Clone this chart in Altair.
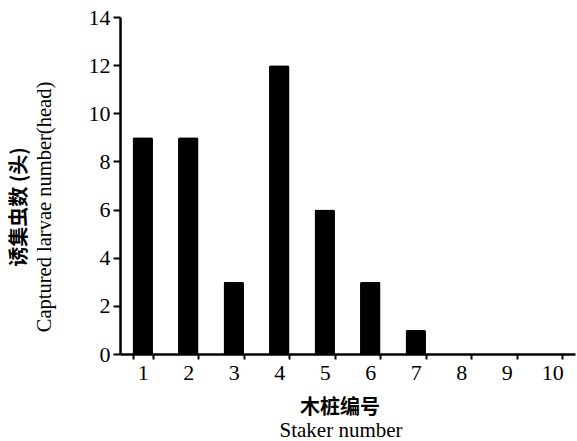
import altair as alt
import pandas as pd

stakers = ["1", "2", "3", "4", "5", "6", "7", "8", "9", "10"]
counts = [9, 9, 3, 12, 6, 3, 1, 0, 0, 0]
y_ticks = [0, 2, 4, 6, 8, 10, 12, 14]

y_title_cn = "诱集虫数 (头)"
y_title_en = "Captured larvae number(head)"
x_title_cn = "木桩编号"
x_title_en = "Staker number"

df = pd.DataFrame({"staker": stakers, "count": counts})

serif = "Liberation Serif"
cjk = "Noto Sans CJK SC"

bars = alt.Chart(df).mark_bar(color="black", cornerRadiusTopLeft=2, cornerRadiusTopRight=2).encode(
    x=alt.X("staker:N", sort=stakers,
            scale=alt.Scale(paddingInner=0.55, paddingOuter=0.275),
            axis=alt.Axis(title=None, labelAngle=0, labelPadding=3,
                          labelFont=serif, labelFontSize=22, labelColor="black",
                          domainColor="black", domainWidth=2.5,
                          tickColor="black", tickWidth=2,
                          tickBand="extent", tickSize=5)),
    y=alt.Y("count:Q", scale=alt.Scale(domain=[0, 14], nice=False),
            axis=alt.Axis(title=None, values=y_ticks, grid=False, labelPadding=3, tickSize=7,
                          labelFont=serif, labelFontSize=22, labelColor="black",
                          domainColor="black", domainWidth=2.5,
                          tickColor="black", tickWidth=2)),
)

def label(text, x, y, font, size, weight="normal", angle=0):
    return alt.Chart(pd.DataFrame({"t": [text]})).mark_text(
        font=font, fontSize=size, fontWeight=weight, angle=angle, color="black",
        align="center", baseline="middle"
    ).encode(text="t:N", x=alt.value(x), y=alt.value(y))

chart = alt.layer(
    bars,
    label(y_title_cn, -100, 190, cjk, 20, "bold", 270),
    label(y_title_en, -75, 190, serif, 20.5, "normal", 270),
    label(x_title_cn, 220, 391, cjk, 20, "bold"),
    label(x_title_en, 221, 414, serif, 21, "normal"),
).properties(
    width=455, height=337,
    padding={"left": 120, "top": 17, "right": 2, "bottom": 87},
    autosize=alt.AutoSizeParams(type="none"),
    background="white",
).configure_view(stroke=None)

chart.save("out.html", embed_options={"renderer": "svg", "actions": False})
